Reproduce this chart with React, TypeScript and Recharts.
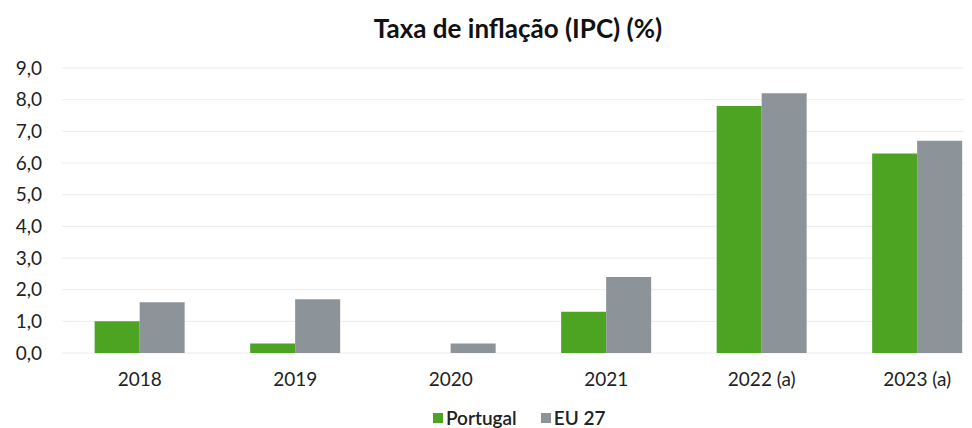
import React from 'react';
import { BarChart, Bar, XAxis, YAxis, CartesianGrid } from 'recharts';

const categories = ['2018', '2019', '2020', '2021', '2022 (a)', '2023 (a)'];
const portugal = [1.0, 0.3, 0.0, 1.3, 7.8, 6.3];
const eu27 = [1.6, 1.7, 0.3, 2.4, 8.2, 6.7];
const yTicks = [0, 1, 2, 3, 4, 5, 6, 7, 8, 9];

const GREEN = '#4CA422';
const GRAY = '#8C9499';
const FONT = 'Lato, "Open Sans", sans-serif';

const data = categories.map((year, i) => ({
  year,
  portugal: portugal[i],
  eu27: eu27[i],
}));

const fmt = (v: number) => v.toFixed(1).replace('.', ',');

const legendItems = [
  { label: 'Portugal', color: GREEN },
  { label: 'EU 27', color: GRAY },
];

export default function App() {
  return (
    <div style={{ position: 'relative', width: 964, height: 420, overflow: 'hidden', background: '#fff' }}>
      {/* title */}
      <div
        style={{
          position: 'absolute',
          top: 4,
          left: 0,
          width: 1020,
          textAlign: 'center',
          fontFamily: FONT,
          fontSize: 26,
          fontWeight: 700,
          color: '#111',
        }}
      >
        Taxa de inflação (IPC) (%)
      </div>

      <BarChart
        width={987}
        height={420}
        data={data}
        margin={{ top: 60, right: 0, bottom: 45, left: 0 }}
        barCategoryGap="21%"
        barGap={0}
      >
        <CartesianGrid vertical={false} stroke="#ececec" />
        <XAxis
          dataKey="year"
          height={30}
          axisLine={false}
          tickLine={false}
          tickSize={0}
          tickMargin={20}
          tick={{ fill: '#222', fontSize: 19, fontFamily: FONT }}
          interval={0}
        />
        <YAxis
          width={54}
          domain={[0, 9]}
          ticks={yTicks}
          interval={0}
          axisLine={false}
          tickLine={false}
          tickSize={0}
          tickMargin={20}
          tickFormatter={fmt}
          tick={{ fill: '#222', fontSize: 19, fontFamily: FONT }}
        />
        <Bar dataKey="portugal" name="Portugal" fill={GREEN} isAnimationActive={false} />
        <Bar dataKey="eu27" name="EU 27" fill={GRAY} isAnimationActive={false} />
      </BarChart>

      {/* legend */}
      <div
        style={{
          position: 'absolute',
          top: 398,
          left: 425,
          display: 'flex',
          gap: 24,
          fontFamily: FONT,
          fontSize: 19,
          fontWeight: 600,
          color: '#222',
        }}
      >
        {legendItems.map((it) => (
          <div key={it.label} style={{ display: 'flex', alignItems: 'center', gap: 3 }}>
            <div style={{ width: 10, height: 10, background: it.color }} />
            <span>{it.label}</span>
          </div>
        ))}
      </div>
    </div>
  );
}
